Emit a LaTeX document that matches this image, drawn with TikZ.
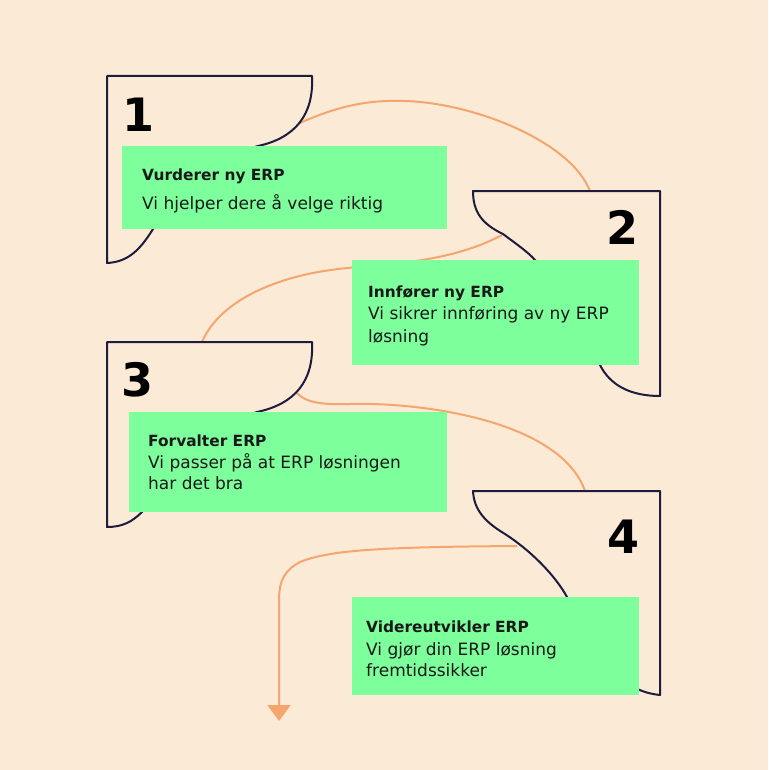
\documentclass[tikz,border=0pt]{standalone}
\usepackage{fontspec}
\setmainfont{DejaVu Sans}
\usetikzlibrary{arrows.meta}

\definecolor{peach}{RGB}{250,234,214}
\definecolor{mint}{RGB}{125,255,155}
\definecolor{apricot}{RGB}{245,165,110}
\definecolor{ink}{RGB}{30,27,60}

\begin{document}
\begin{tikzpicture}[x=1pt, y=-1pt,
    frame/.style={draw=ink, line width=2pt, line join=round},
    link/.style={draw=apricot, line width=2pt},
    card/.style={fill=mint, inner sep=0pt, anchor=north west},
    title/.style={anchor=base west, inner sep=0pt, font=\fontsize{15.4}{18}\selectfont\bfseries, text=black!90},
    body/.style={anchor=base west, inner sep=0pt, font=\fontsize{17}{20}\selectfont, text=black!90},
    num/.style={inner sep=0pt, font=\fontsize{46}{46}\selectfont\bfseries, text=black}]
        % Background
        \fill[peach] (0,0) rectangle (768,770);
        \useasboundingbox (0,0) rectangle (768,770);

        % Connector end points
        \coordinate (out1) at (300,123);
        \coordinate (in2) at (590,191);
        \coordinate (out2) at (502,235);
        \coordinate (in3) at (202,342);
        \coordinate (out3) at (297,393);
        \coordinate (in4) at (585,491);
        \coordinate (out4) at (517,546);
        \coordinate (finish) at (279,721);

        % Connectors
        \draw[link] (out1) .. controls (340,105) and (370,100) .. (403,101)
            .. controls (470,102) and (570,140) .. (in2);
        \draw[link] (out2) .. controls (470,252) and (430,262) .. (360,267)
            .. controls (280,272) and (220,300) .. (in3);
        \draw[link] (out3) .. controls (305,402) and (320,405) .. (350,404)
            .. controls (420,402) and (560,420) .. (in4);
        \draw[link, -{Triangle[width=23pt, length=16pt]}] (out4)
            .. controls (380,547) and (330,550) .. (300,562)
            .. controls (285,570) and (279,580) .. (279,600) -- (finish);

        % Frames
        \draw[frame] (107,263) -- (107,76) -- (312,76)
            .. controls (314,115) and (295,138) .. (258,146)
            .. controls (210,160) and (175,200) .. (153,229)
            .. controls (140,250) and (128,262) .. (107,263) -- cycle;
        \draw[frame] (660,396) -- (660,191) -- (473,191)
            .. controls (473,212) and (482,224) .. (503,234)
            .. controls (515,243) and (528,252) .. (535,260)
            .. controls (570,300) and (590,340) .. (600,365)
            .. controls (610,385) and (630,396) .. (660,396) -- cycle;
        \draw[frame] (107,527) -- (107,342) -- (312,342)
            .. controls (314,381) and (295,404) .. (257,412)
            .. controls (200,430) and (165,480) .. (142,512)
            .. controls (132,522) and (122,527) .. (107,527) -- cycle;
        \draw[frame] (660,695) -- (660,491) -- (473,491)
            .. controls (474,510) and (485,522) .. (505,534)
            .. controls (530,550) and (555,575) .. (567,597)
            .. controls (590,640) and (610,690) .. (660,695) -- cycle;

        % Numbers
        \node[num, anchor=base west] (n1) at (122,132) {1};
        \node[num, anchor=base east] (n2) at (639,244) {2};
        \node[num, anchor=base west] (n3) at (121,396) {3};
        \node[num, anchor=base east] (n4) at (640,553) {4};

        % Cards
        \node[card, minimum width=325pt, minimum height=83pt] (card1) at (122,146) {};
        \node[card, minimum width=287pt, minimum height=105pt] (card2) at (352,260) {};
        \node[card, minimum width=318pt, minimum height=100pt] (card3) at (129,412) {};
        \node[card, minimum width=287pt, minimum height=98pt] (card4) at (352,597) {};

        % Card texts
        \node[title] (t1) at (142,181) {Vurderer ny ERP};
        \node[body] (d1) at (142,209) {Vi hjelper dere å velge riktig};

        \node[title] (t2) at (368,297) {Innfører ny ERP};
        \node[body] (d2) at (368,319) {Vi sikrer innføring av ny ERP};
        \node[body] (e2) at (368,342) {løsning};

        \node[title] (t3) at (148,446) {Forvalter ERP};
        \node[body] (d3) at (148,468) {Vi passer på at ERP løsningen};
        \node[body] (e3) at (148,489) {har det bra};

        \node[title] (t4) at (366,632) {Videreutvikler ERP};
        \node[body] (d4) at (366,655) {Vi gjør din ERP løsning};
        \node[body] (e4) at (366,676) {fremtidssikker};
    \end{tikzpicture}
\end{document}
